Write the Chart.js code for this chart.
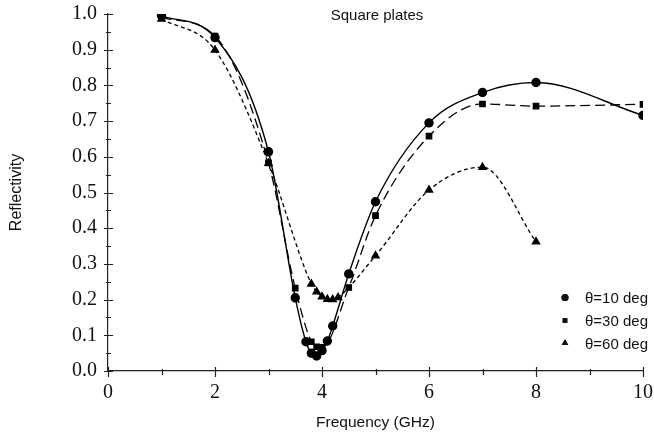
<!DOCTYPE html>
<html><head><meta charset="utf-8">
<script src="https://cdn.jsdelivr.net/npm/chart.js@4/dist/chart.umd.min.js"></script>
<style>html,body{margin:0;padding:0;background:#fff}canvas{display:block}</style>
</head><body>
<canvas id="c" width="654" height="434"></canvas>
<script>
// ---- data ----
const freq10 = [1, 2, 3, 3.5, 3.7, 3.8, 3.9, 4.0, 4.1, 4.2, 4.5, 5, 6, 7, 8, 10];
const refl10 = [0.995, 0.934, 0.614, 0.205, 0.082, 0.050, 0.042, 0.057, 0.084, 0.126, 0.272, 0.474, 0.695, 0.780, 0.808, 0.716];
const freq30 = [1, 2, 3, 3.5, 3.8, 3.9, 4.0, 4.5, 5, 6, 7, 8, 10];
const refl30 = [0.990, 0.938, 0.583, 0.232, 0.082, 0.068, 0.066, 0.234, 0.435, 0.658, 0.748, 0.742, 0.747];
const freq60 = [1, 2, 3, 3.8, 3.9, 4.0, 4.1, 4.2, 4.3, 5, 6, 7, 8];
const refl60 = [0.986, 0.899, 0.582, 0.244, 0.222, 0.208, 0.201, 0.200, 0.206, 0.323, 0.507, 0.571, 0.362];
const seriesLabels = ['θ=10 deg', 'θ=30 deg', 'θ=60 deg'];
const xTicks = [0, 2, 4, 6, 8, 10];
const yTicks = [0, 0.1, 0.2, 0.3, 0.4, 0.5, 0.6, 0.7, 0.8, 0.9, 1.0];
const chartTitle = 'Square plates';
const xTitle = 'Frequency (GHz)';
const yTitle = 'Reflectivity';

const SANS = '"Liberation Sans", Arial, sans-serif';
const SERIF = '"Liberation Serif", "Times New Roman", serif';
const pts = (xs, ys) => xs.map((x, i) => ({x, y: ys[i]}));

const decor = {
  id: 'decor',
  afterDraw(chart) {
    const {ctx, chartArea, scales: {x, y}} = chart;
    ctx.save();
    ctx.strokeStyle = '#222';
    ctx.lineWidth = 1.2;
    ctx.beginPath();
    const y0 = y.getPixelForValue(0);
    const x0 = x.getPixelForValue(0);
    for (let v = 0; v <= 10; v += 1) {
      const px = Math.round(x.getPixelForValue(v)) + 0.5;
      const major = v % 2 === 0;
      ctx.moveTo(px, y0 - (major ? 4 : 2));
      ctx.lineTo(px, y0 + (major ? 6 : 4));
    }
    for (let k = 0; k <= 20; k++) {
      const py = Math.round(y.getPixelForValue(k * 0.05)) + 0.5;
      const major = k % 2 === 0;
      ctx.moveTo(x0 - (major ? 4 : 2), py);
      ctx.lineTo(x0 + (major ? 5 : 3), py);
    }
    ctx.stroke();
    ctx.fillStyle = '#111';
    ctx.font = '15px ' + SANS;
    ctx.textAlign = 'center';
    ctx.textBaseline = 'alphabetic';
    ctx.fillText(chartTitle, (chartArea.left + chartArea.right) / 2 + 1.5, 20);
    const baselines = [303, 326, 348.5];
    ctx.textAlign = 'left';
    chart.data.datasets.forEach((ds, i) => {
      const cy = baselines[i] - 5.5;
      Chart.helpers.drawPoint(ctx, {pointStyle: ds.pointStyle, radius: ds.legendRadius, borderWidth: 0, rotation: 0}, 565, cy);
      ctx.fillStyle = '#111';
      ctx.fill();
      ctx.fillText(ds.label, 585, baselines[i]);
    });
    ctx.restore();
  }
};

new Chart(document.getElementById('c'), {
  type: 'line',
  data: {
    datasets: [
      {label: seriesLabels[0], data: pts(freq10, refl10), borderColor: '#000', backgroundColor: '#000',
       borderWidth: 1.4, pointStyle: 'circle', pointRadius: 4, legendRadius: 3.5, cubicInterpolationMode: 'monotone'},
      {label: seriesLabels[1], data: pts(freq30, refl30), borderColor: '#000', backgroundColor: '#000',
       borderWidth: 1.3, borderDash: [10, 5], pointStyle: 'rect', pointRadius: 3.8, legendRadius: 3.3, cubicInterpolationMode: 'monotone'},
      {label: seriesLabels[2], data: pts(freq60, refl60), borderColor: '#000', backgroundColor: '#000',
       borderWidth: 1.3, borderDash: [4, 3], pointStyle: 'triangle', pointRadius: 4.2, legendRadius: 3.8, cubicInterpolationMode: 'monotone'}
    ]
  },
  options: {
    responsive: false,
    animation: false,
    devicePixelRatio: 1,
    layout: {padding: {left: 0, right: 11, top: 14, bottom: 0}},
    elements: {point: {borderWidth: 0, hoverRadius: 4}},
    plugins: {legend: {display: false}, tooltip: {enabled: false}, title: {display: false}},
    scales: {
      x: {
        type: 'linear', min: 0, max: 10,
        afterFit(s) { s.height = 63; s.paddingLeft = 0; s.paddingRight = 0; },
        afterBuildTicks(s) { s.ticks = xTicks.map(v => ({value: v})); },
        grid: {display: false, drawTicks: false, tickLength: 0},
        border: {display: true, color: '#222', width: 1.2},
        ticks: {padding: 10, maxRotation: 0, autoSkip: false, color: '#111', font: {family: SERIF, size: 20},
                callback: v => String(v)},
        title: {display: true, text: xTitle, color: '#111', font: {family: SANS, size: 15.5}, padding: {top: 0, bottom: 2}}
      },
      y: {
        type: 'linear', min: 0, max: 1,
        afterFit(s) { s.width = 108; s.paddingTop = 0; s.paddingBottom = 0; },
        afterBuildTicks(s) { s.ticks = yTicks.map(v => ({value: v})); },
        grid: {display: false, drawTicks: false, tickLength: 0},
        border: {display: true, color: '#222', width: 1.2},
        ticks: {padding: 11, autoSkip: false, color: '#111', font: {family: SERIF, size: 20},
                callback: v => Number(v).toFixed(1)},
        title: {display: true, text: yTitle, color: '#111', font: {family: SANS, size: 16}, padding: {top: 7, bottom: 0}}
      }
    }
  },
  plugins: [decor]
});
</script>
</body></html>
